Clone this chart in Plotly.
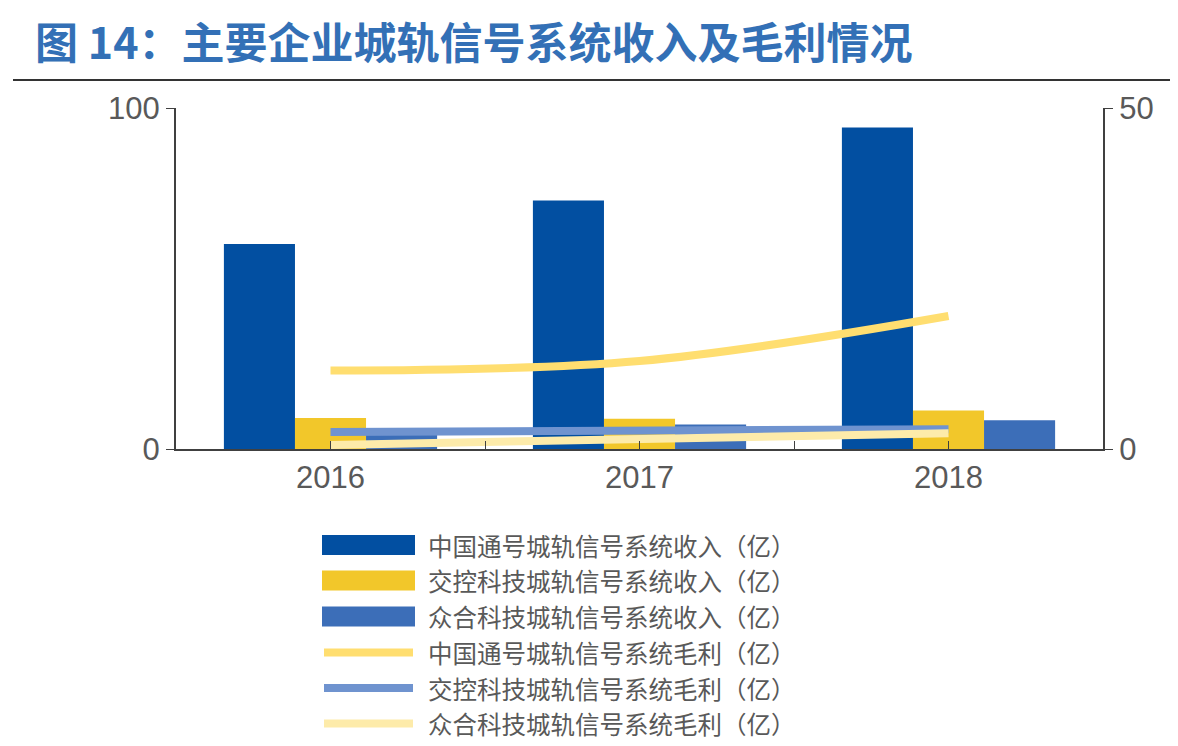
import plotly.graph_objects as go

# categories
years = ["2016", "2017", "2018"]

# revenue bars (left axis, 亿)
crsc_rev = [60.1, 72.9, 94.3]
traffic_ctrl_rev = [9.1, 8.9, 11.3]
unittec_rev = [4.2, 7.2, 8.4]

# gross profit lines (right axis, 亿)
crsc_gp = [11.5, 12.9, 19.5]
traffic_ctrl_gp = [2.5, 2.6, 2.9]
unittec_gp = [0.6, 1.4, 2.3]

names = [
    "中国通号城轨信号系统收入（亿）",
    "交控科技城轨信号系统收入（亿）",
    "众合科技城轨信号系统收入（亿）",
    "中国通号城轨信号系统毛利（亿）",
    "交控科技城轨信号系统毛利（亿）",
    "众合科技城轨信号系统毛利（亿）",
]

bar_colors = ["#024FA1", "#F2C72A", "#3C6EB8"]
line_colors = ["#FFDE70", "#6F93CF", "#FDEBAA"]

# page body has an 8px margin, so the figure is shifted by 8px
OFF = 8
W, H = 1178 - OFF, 746 - OFF
PW, PH = 927, 341
L, T = 176 - OFF, 108 - OFF
R, B = W - L - PW, H - T - PH

TXT = "#595959"
AX = "#404040"
NUM_FONT = "Liberation Sans, Arial, sans-serif"
CJK_FONT = "Noto Sans CJK SC, sans-serif"

fig = go.Figure()

for name, vals, col in zip(names[:3], [crsc_rev, traffic_ctrl_rev, unittec_rev], bar_colors):
    fig.add_trace(go.Bar(x=years, y=vals, name=name, marker=dict(color=col, line_width=0)))

for name, vals, col, shape in zip(names[3:], [crsc_gp, traffic_ctrl_gp, unittec_gp],
                                  line_colors, ["spline", "linear", "linear"]):
    fig.add_trace(go.Scatter(x=years, y=vals, name=name, mode="lines", xaxis="x2", yaxis="y2",
                             line=dict(color=col, width=8, shape=shape, smoothing=1.0)))


# helpers: page pixel (as in the reference) -> paper coords
def px(x):
    return (x - OFF - L) / PW


def py(y):
    return (T + PH - (y - OFF)) / PH


shapes = [dict(type="line", xref="paper", yref="paper", x0=px(13), x1=px(1178),
               y0=py(80), y1=py(80), line=dict(color="#333333", width=2))]
annotations = []

# hand-drawn legend with wide swatches like the original
row_y = [545, 580.5, 616.5, 652.5, 688, 723.5]
for i, yc in enumerate(row_y):
    if i < 3:
        shapes.append(dict(type="rect", xref="paper", yref="paper", x0=px(322), x1=px(415),
                           y0=py(yc + 10), y1=py(yc - 10), fillcolor=bar_colors[i], line_width=0))
    else:
        shapes.append(dict(type="line", xref="paper", yref="paper", x0=px(324), x1=px(413),
                           y0=py(yc), y1=py(yc), line=dict(color=line_colors[i - 3], width=8)))
    annotations.append(dict(xref="paper", yref="paper", x=px(427), y=py(yc), xanchor="left",
                            yanchor="middle", showarrow=False, text=names[i], borderpad=0,
                            font=dict(family=CJK_FONT, size=24.5, color=TXT)))

fig.update_layout(
    width=W, height=H,
    margin=dict(l=L, r=R, t=T, b=B),
    paper_bgcolor="white", plot_bgcolor="white",
    showlegend=False,
    barmode="group", bargap=0.31, bargroupgap=0,
    title=dict(text="<b>图 14：主要企业城轨信号系统收入及毛利情况</b>", x=(35 - OFF) / W,
               xanchor="left", y=1 - (44 - OFF) / H, yanchor="middle",
               font=dict(family=CJK_FONT, size=43, color="#3370B6")),
    xaxis=dict(type="category", showline=True, linecolor=AX, linewidth=2,
               ticks="inside", tickson="boundaries", ticklen=8, tickcolor=AX,
               tickfont=dict(family=NUM_FONT, size=31, color=TXT), showgrid=False),
    xaxis2=dict(type="category", overlaying="x", anchor="y", showline=False,
                ticks="inside", ticklen=8, tickcolor=AX, showticklabels=False,
                showgrid=False, range=[-0.5, 2.5]),
    yaxis=dict(range=[0, 100], dtick=100, showline=True, linecolor=AX, linewidth=2,
               ticks="outside", ticklen=8, tickcolor=AX, showgrid=False, zeroline=False,
               tickfont=dict(family=NUM_FONT, size=31, color=TXT)),
    yaxis2=dict(range=[0, 50], dtick=50, overlaying="y", side="right", anchor="x2",
                showline=True, linecolor=AX, linewidth=2, ticks="outside", ticklen=8,
                tickcolor=AX, showgrid=False, zeroline=False,
                tickfont=dict(family=NUM_FONT, size=31, color=TXT)),
    shapes=shapes,
    annotations=annotations,
)

fig.write_html("out.html")
